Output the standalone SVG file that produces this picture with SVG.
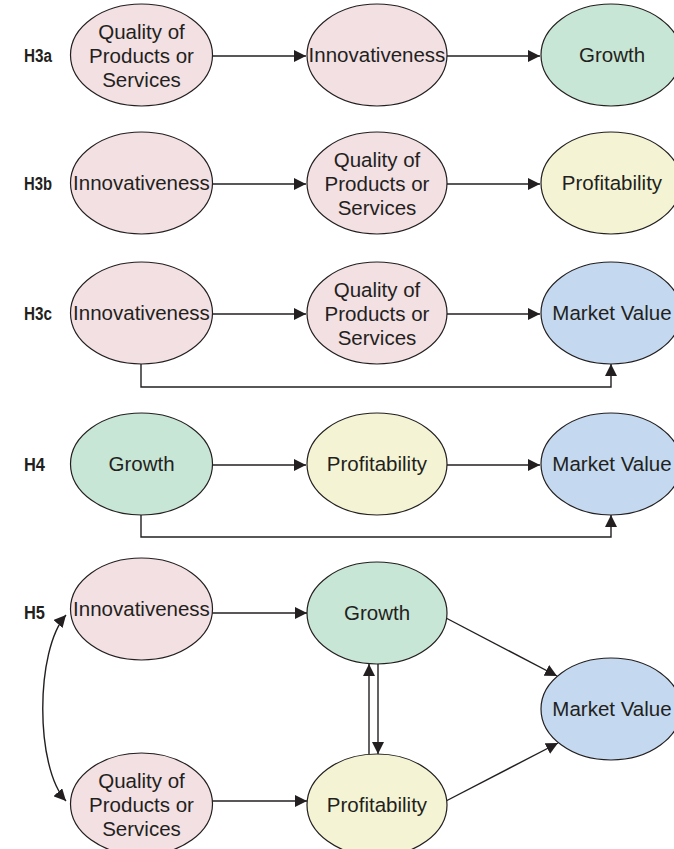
<svg xmlns="http://www.w3.org/2000/svg" width="674" height="849" viewBox="0 0 674 849">
<style>
  .n { stroke: #231f20; stroke-width: 1.2; }
  .pink { fill: #f3e0e3; }
  .green { fill: #c8e6d5; }
  .yellow { fill: #f4f4d4; }
  .blue { fill: #c4d9f0; }
  .t { font-family: "Liberation Sans", Arial, sans-serif; font-size: 20.5px; fill: #231f20; text-anchor: middle; }
  .h { font-family: "Liberation Sans", Arial, sans-serif; font-size: 18px; font-weight: bold; fill: #231f20; }
  .ca { fill: none; stroke: #231f20; stroke-width: 1.4; marker-end: url(#ah); }
</style>
<defs>
  <marker id="ah" viewBox="0 0 12 12" refX="12" refY="6" markerWidth="12" markerHeight="12" markerUnits="userSpaceOnUse" orient="auto-start-reverse">
    <path d="M0,0 L12,6 L0,12 z" fill="#231f20"/>
  </marker>
</defs>
<rect width="674" height="849" fill="#ffffff"/>

<g id="labels">
  <text class="h" x="24" y="62" textLength="28" lengthAdjust="spacingAndGlyphs">H3a</text>
  <text class="h" x="24" y="190" textLength="28" lengthAdjust="spacingAndGlyphs">H3b</text>
  <text class="h" x="24" y="320" textLength="28" lengthAdjust="spacingAndGlyphs">H3c</text>
  <text class="h" x="24" y="471" textLength="21" lengthAdjust="spacingAndGlyphs">H4</text>
  <text class="h" x="24" y="619" textLength="21" lengthAdjust="spacingAndGlyphs">H5</text>
</g>

<g id="connectors">
  <path class="ca" d="M213,56 H306"/>
  <path class="ca" d="M447,56 H540"/>
  <path class="ca" d="M213,184 H306"/>
  <path class="ca" d="M447,184 H540"/>
  <path class="ca" d="M213,314 H306"/>
  <path class="ca" d="M447,314 H540"/>
  <path class="ca" d="M141,364 V387 H611 V364"/>
  <path class="ca" d="M213,465 H306"/>
  <path class="ca" d="M447,465 H540"/>
  <path class="ca" d="M141,515 V537 H611 V515"/>
  <path class="ca" d="M212,613 H307"/>
  <path class="ca" d="M212,801 H307"/>
  <path class="ca" d="M369,754 V664"/>
  <path class="ca" d="M378,664 V754"/>
  <path class="ca" d="M446,618 L557,676"/>
  <path class="ca" d="M446,801 L558,743"/>
  <path class="ca" d="M66,615 C35,650 35,768 66,801" style="marker-start:url(#ah)"/>
</g>

<g id="h3a-quality">
  <ellipse class="n pink" cx="141.5" cy="55" rx="71" ry="51"/>
  <text class="t" x="141.5" y="38.5">Quality of</text>
  <text class="t" x="141.5" y="62.5">Products or</text>
  <text class="t" x="141.5" y="86.5">Services</text>
</g>
<g id="h3a-innov">
  <ellipse class="n pink" cx="377" cy="55" rx="70" ry="51"/>
  <text class="t" x="377" y="62">Innovativeness</text>
</g>
<g id="h3a-growth">
  <ellipse class="n green" cx="611" cy="55" rx="70" ry="51"/>
  <text class="t" x="612" y="62">Growth</text>
</g>

<g id="h3b-innov">
  <ellipse class="n pink" cx="141.5" cy="183" rx="71" ry="51"/>
  <text class="t" x="141.5" y="190">Innovativeness</text>
</g>
<g id="h3b-quality">
  <ellipse class="n pink" cx="377" cy="183" rx="70" ry="51"/>
  <text class="t" x="377" y="166.5">Quality of</text>
  <text class="t" x="377" y="190.5">Products or</text>
  <text class="t" x="377" y="214.5">Services</text>
</g>
<g id="h3b-profit">
  <ellipse class="n yellow" cx="611" cy="183" rx="70" ry="51"/>
  <text class="t" x="612" y="190">Profitability</text>
</g>

<g id="h3c-innov">
  <ellipse class="n pink" cx="141.5" cy="313" rx="71" ry="51"/>
  <text class="t" x="141.5" y="320">Innovativeness</text>
</g>
<g id="h3c-quality">
  <ellipse class="n pink" cx="377" cy="313" rx="70" ry="51"/>
  <text class="t" x="377" y="296.5">Quality of</text>
  <text class="t" x="377" y="320.5">Products or</text>
  <text class="t" x="377" y="344.5">Services</text>
</g>
<g id="h3c-market">
  <ellipse class="n blue" cx="611" cy="313" rx="70" ry="51"/>
  <text class="t" x="612" y="320">Market Value</text>
</g>

<g id="h4-growth">
  <ellipse class="n green" cx="141.5" cy="464" rx="71" ry="51"/>
  <text class="t" x="141.5" y="471">Growth</text>
</g>
<g id="h4-profit">
  <ellipse class="n yellow" cx="377" cy="464" rx="70" ry="51"/>
  <text class="t" x="377" y="471">Profitability</text>
</g>
<g id="h4-market">
  <ellipse class="n blue" cx="611" cy="464" rx="70" ry="51"/>
  <text class="t" x="612" y="471">Market Value</text>
</g>

<g id="h5-innov">
  <ellipse class="n pink" cx="141.5" cy="609" rx="71" ry="51"/>
  <text class="t" x="141.5" y="616">Innovativeness</text>
</g>
<g id="h5-growth">
  <ellipse class="n green" cx="377" cy="613" rx="70" ry="51"/>
  <text class="t" x="377" y="620">Growth</text>
</g>
<g id="h5-market">
  <ellipse class="n blue" cx="611" cy="709" rx="70" ry="51"/>
  <text class="t" x="612" y="716">Market Value</text>
</g>
<g id="h5-quality">
  <ellipse class="n pink" cx="141.5" cy="804" rx="71" ry="51"/>
  <text class="t" x="141.5" y="787.5">Quality of</text>
  <text class="t" x="141.5" y="811.5">Products or</text>
  <text class="t" x="141.5" y="835.5">Services</text>
</g>
<g id="h5-profit">
  <ellipse class="n yellow" cx="377" cy="805" rx="70" ry="51"/>
  <text class="t" x="377" y="812">Profitability</text>
</g>
</svg>
